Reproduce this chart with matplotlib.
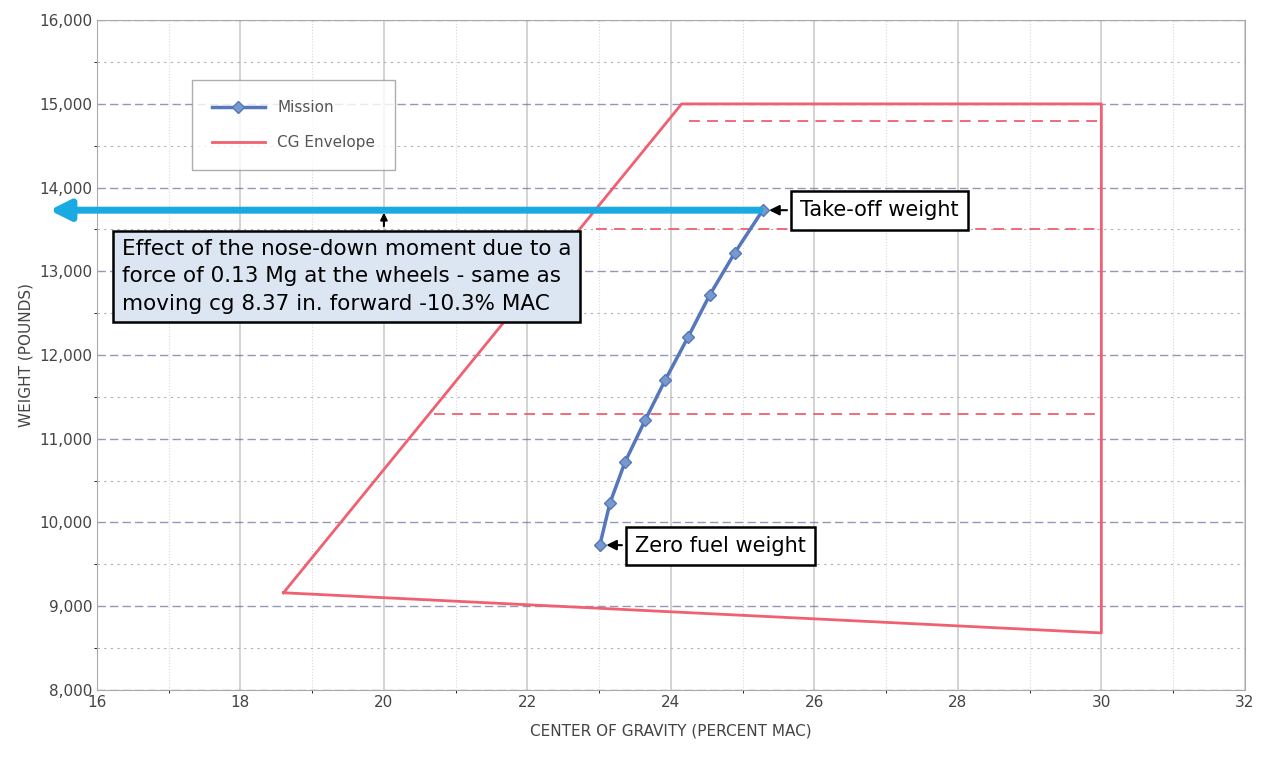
import matplotlib.pyplot as plt
from matplotlib.ticker import MultipleLocator, FuncFormatter

# mission track (percent MAC, pounds)
mission_cg = [23.01, 23.15, 23.36, 23.64, 23.92, 24.24, 24.54, 24.89, 25.28]
mission_wt = [9730, 10230, 10720, 11220, 11700, 12215, 12715, 13220, 13730]

# CG envelope
env_cg = [18.6, 24.15, 30.0, 30.0, 18.6]
env_wt = [9160, 15000, 15000, 8680, 9160]

# dashed limit lines: (weight, cg start, cg end)
limits = [(14800, 24.25, 30.0), (13500, 22.95, 30.0), (11300, 20.7, 30.0)]

fig = plt.figure(figsize=(12.74, 7.76), dpi=100)
ax = fig.add_axes([0.0761, 0.111, 0.901, 0.863])

ax.set_xlim(16, 32)
ax.set_ylim(8000, 16000)
ax.xaxis.set_major_locator(MultipleLocator(2))
ax.yaxis.set_major_locator(MultipleLocator(1000))
ax.yaxis.set_minor_locator(MultipleLocator(500))
ax.xaxis.set_minor_locator(MultipleLocator(1))
ax.yaxis.set_major_formatter(FuncFormatter(lambda v, p: f"{int(v):,}"))
ax.grid(which="major", axis="y", color="#6a6a9a", ls=(0, (6, 3)), lw=1.0, alpha=0.7)
ax.grid(which="minor", axis="y", color="#b0b0b0", ls=(0, (2, 4)), lw=0.8)
ax.grid(which="major", axis="x", color="#cccccc", lw=1.2)
ax.grid(which="minor", axis="x", color="#d8d8d8", ls=":", lw=0.8)
for s in ax.spines.values():
    s.set_color("#aaaaaa")
ax.tick_params(labelsize=11, colors="#444444", length=0)

ax.plot(env_cg, env_wt, color="#f06070", lw=2, label="CG Envelope", zorder=3)
for w, x0, x1 in limits:
    ax.plot([x0, x1], [w, w], color="#f06070", lw=1.3, ls=(0, (6, 4)), zorder=3)
ax.plot(mission_cg, mission_wt, color="#5577bb", lw=2.5, marker="D", ms=6,
        mfc="#7799cc", mec="#5577bb", label="Mission", zorder=4)

h, l = ax.get_legend_handles_labels()
leg = ax.legend(h[::-1], l[::-1], loc="upper left", bbox_to_anchor=(0.08, 0.915),
                frameon=True, fontsize=11, labelspacing=1.3, borderpad=1.0,
                handlelength=3.5)
leg.get_frame().set_edgecolor("#999999")
leg.get_frame().set_boxstyle("square")
for t in leg.get_texts():
    t.set_color("#555555")

ax.set_xlabel("CENTER OF GRAVITY (PERCENT MAC)", fontsize=11, color="#444444", labelpad=10)
ax.set_ylabel("WEIGHT (POUNDS)", fontsize=11, color="#444444")

# blue shift arrow
ax.annotate("", xy=(15.3, mission_wt[-1]), xytext=(mission_cg[-1], mission_wt[-1]),
            xycoords="data", annotation_clip=False,
            arrowprops=dict(arrowstyle="-|>,head_width=0.6,head_length=1.2",
                            color="#1aa9e0", lw=5), zorder=5)

box = dict(boxstyle="square,pad=0.45", fc="white", ec="black", lw=1.8)
ax.annotate("Take-off weight", xy=(mission_cg[-1] + 0.05, mission_wt[-1]),
            xytext=(25.8, 13730), fontsize=15, va="center", ha="left", bbox=box,
            arrowprops=dict(arrowstyle="-|>", color="black", lw=1.5))
ax.annotate("Zero fuel weight", xy=(mission_cg[0] + 0.05, mission_wt[0]),
            xytext=(23.5, 9720), fontsize=15, va="center", ha="left", bbox=box,
            arrowprops=dict(arrowstyle="-|>", color="black", lw=1.5))
ax.text(16.35, 12940,
        "Effect of the nose-down moment due to a\n"
        "force of 0.13 Mg at the wheels - same as\n"
        "moving cg 8.37 in. forward -10.3% MAC",
        fontsize=15.5, va="center", ha="left", linespacing=1.45, zorder=6,
        bbox=dict(boxstyle="square,pad=0.4", fc="#dce6f2", ec="black", lw=1.8))
ax.annotate("", xy=(20.0, 13700), xytext=(20.0, 13540),
            arrowprops=dict(arrowstyle="-|>", color="black", lw=1.5,
                            shrinkA=0, shrinkB=0), zorder=6)

fig.savefig("out.png", dpi=100)
